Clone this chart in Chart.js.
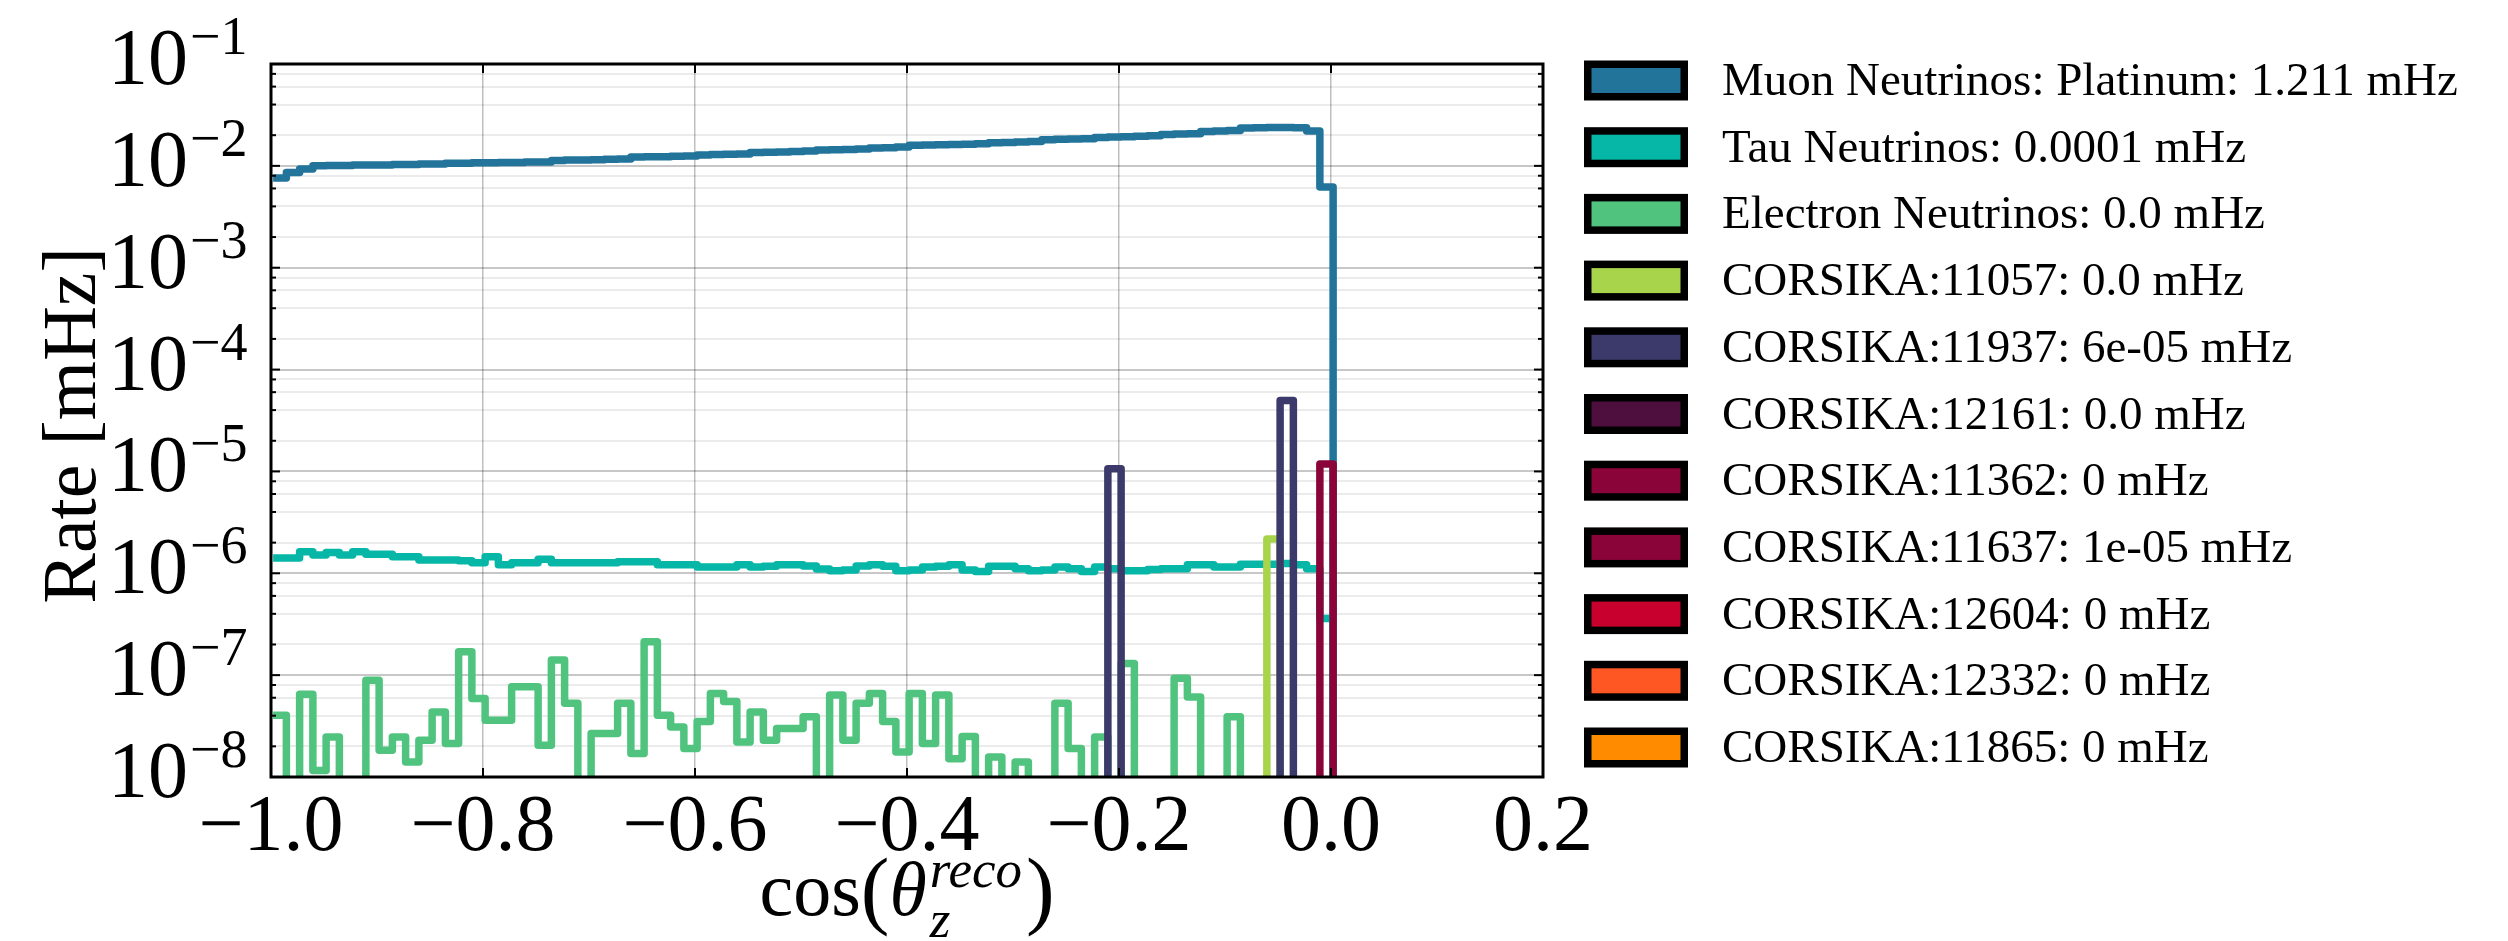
<!DOCTYPE html>
<html>
<head>
<meta charset="utf-8">
<title>Rate vs cos(theta_z reco)</title>
<script src="https://cdn.jsdelivr.net/npm/chart.js@4.4.1/dist/chart.umd.min.js"></script>
<style>
  html, body { margin: 0; padding: 0; background: #fff; }
  canvas { display: block; }
</style>
</head>
<body>
<canvas id="rateChart" width="2508" height="941"></canvas>
<script>
// binning of the histograms in cos(zenith)
const BIN_START = -0.998;
const BIN_WIDTH = 0.0125;
const N_BINS = 80;

const X_TICKS = [-1.0, -0.8, -0.6, -0.4, -0.2, 0.0, 0.2];
const Y_EXPONENTS = [-8, -7, -6, -5, -4, -3, -2, -1];
const Y_MINOR_SUBS = [2, 4, 6, 8];

// rates per bin [mHz]
const muonRates = [
  0.0076, 0.0086, 0.0093, 0.0100, 0.0101, 0.0101, 0.0102, 0.0102, 0.0102, 0.0103,
  0.0103, 0.0104, 0.0104, 0.0106, 0.0106, 0.0107, 0.0107, 0.0108, 0.0108, 0.0109,
  0.0109, 0.0113, 0.0114, 0.0114, 0.0115, 0.0116, 0.0117, 0.0122, 0.0123, 0.0123,
  0.0124, 0.0125, 0.0128, 0.0129, 0.0130, 0.0131, 0.0135, 0.0136, 0.0137, 0.0138,
  0.0140, 0.0143, 0.0144, 0.0145, 0.0146, 0.0150, 0.0151, 0.0153, 0.0159, 0.0160,
  0.0161, 0.0162, 0.0163, 0.0165, 0.0169, 0.0170, 0.0171, 0.0173, 0.0180, 0.0182,
  0.0183, 0.0185, 0.0190, 0.0192, 0.0193, 0.0195, 0.0197, 0.0203, 0.0205, 0.0207,
  0.0218, 0.0220, 0.0222, 0.0235, 0.0237, 0.0238, 0.0238, 0.0237, 0.0220, 0.0062
];

const tauRates = [
  1.41e-6, 1.41e-6, 1.63e-6, 1.51e-6, 1.60e-6, 1.51e-6, 1.63e-6, 1.54e-6, 1.54e-6, 1.45e-6,
  1.45e-6, 1.35e-6, 1.35e-6, 1.35e-6, 1.33e-6, 1.27e-6, 1.45e-6, 1.21e-6, 1.27e-6, 1.27e-6,
  1.37e-6, 1.27e-6, 1.27e-6, 1.27e-6, 1.27e-6, 1.27e-6, 1.30e-6, 1.30e-6, 1.30e-6, 1.21e-6,
  1.21e-6, 1.21e-6, 1.15e-6, 1.15e-6, 1.15e-6, 1.21e-6, 1.15e-6, 1.17e-6, 1.21e-6, 1.21e-6,
  1.18e-6, 1.10e-6, 1.06e-6, 1.08e-6, 1.18e-6, 1.21e-6, 1.17e-6, 1.06e-6, 1.08e-6, 1.15e-6,
  1.17e-6, 1.21e-6, 1.08e-6, 1.04e-6, 1.17e-6, 1.17e-6, 1.11e-6, 1.06e-6, 1.08e-6, 1.15e-6,
  1.11e-6, 1.04e-6, 1.15e-6, 1.11e-6, 1.06e-6, 1.06e-6, 1.09e-6, 1.11e-6, 1.11e-6, 1.21e-6,
  1.21e-6, 1.15e-6, 1.15e-6, 1.23e-6, 1.23e-6, 1.23e-6, 1.25e-6, 1.21e-6, 1.11e-6, 3.6e-7
];

const electronRates = [
  4.05e-8, 0, 6.5e-8, 1.16e-8, 2.47e-8, 0, 0, 8.9e-8, 1.83e-8, 2.47e-8,
  1.40e-8, 2.3e-8, 4.35e-8, 2.13e-8, 1.70e-7, 5.9e-8, 3.6e-8, 3.6e-8, 7.7e-8, 7.7e-8,
  2.05e-8, 1.41e-7, 5.3e-8, 0, 2.67e-8, 2.67e-8, 5.3e-8, 1.70e-8, 2.13e-7, 4.05e-8,
  3.1e-8, 1.9e-8, 3.5e-8, 6.6e-8, 5.5e-8, 2.2e-8, 4.35e-8, 2.3e-8, 3.0e-8, 3.0e-8,
  3.9e-8, 0, 6.4e-8, 2.3e-8, 5.3e-8, 6.6e-8, 3.5e-8, 1.76e-8, 6.6e-8, 2.13e-8,
  6.4e-8, 1.51e-8, 2.5e-8, 0, 1.57e-8, 0, 1.4e-8, 0, 0, 5.3e-8,
  1.9e-8, 0, 2.47e-8, 0, 1.30e-7, 0, 0, 0, 9.3e-8, 6.1e-8,
  0, 0, 3.9e-8, 0, 0, 0, 0, 0, 0, 0
];

// CORSIKA sets only fill a few bins: [bin index, rate]
const corsika11057 = [[75, 2.17e-6]];
const corsika11937 = [[63, 1.06e-5], [76, 4.97e-5]];
const corsika12161 = [];
const corsika11362 = [];
const corsika11637 = [[79, 1.18e-5]];
const corsika12604 = [];
const corsika12332 = [];
const corsika11865 = [];

const seriesLabels = [
  'Muon Neutrinos: Platinum: 1.211 mHz',
  'Tau Neutrinos: 0.0001 mHz',
  'Electron Neutrinos: 0.0 mHz',
  'CORSIKA:11057: 0.0 mHz',
  'CORSIKA:11937: 6e-05 mHz',
  'CORSIKA:12161: 0.0 mHz',
  'CORSIKA:11362: 0 mHz',
  'CORSIKA:11637: 1e-05 mHz',
  'CORSIKA:12604: 0 mHz',
  'CORSIKA:12332: 0 mHz',
  'CORSIKA:11865: 0 mHz'
];
const seriesColors = [
  '#22749b', '#06b6a6', '#50c47f', '#a8d44c', '#3b3a6a', '#4e0f3e',
  '#8b0439', '#8b0439', '#c8002e', '#ff5724', '#ff8c00'
];

function binEdge(i) {
  return BIN_START + i * BIN_WIDTH;
}

function fromSparse(pairs) {
  const out = new Array(N_BINS).fill(0);
  pairs.forEach(p => { out[p[0]] = p[1]; });
  return out;
}

// outline of a step histogram, empty bins go below the axis and get clipped
function stepPoints(rates) {
  const floor = 1e-12;
  const pts = rates.map((v, i) => ({x: binEdge(i), y: v > 0 ? v : floor}));
  pts.push({x: binEdge(N_BINS), y: floor});
  return pts;
}

const allRates = [
  muonRates, tauRates, electronRates,
  fromSparse(corsika11057), fromSparse(corsika11937), fromSparse(corsika12161),
  fromSparse(corsika11362), fromSparse(corsika11637), fromSparse(corsika12604),
  fromSparse(corsika12332), fromSparse(corsika11865)
];

const datasets = allRates.map((rates, i) => ({
  label: seriesLabels[i],
  data: stepPoints(rates),
  borderColor: seriesColors[i],
  backgroundColor: seriesColors[i],
  borderWidth: 7.5,
  borderJoinStyle: 'round',
  stepped: true,
  pointRadius: 0,
  fill: false,
  clip: 0,
  order: allRates.length - i
}));

const FONT = '"Liberation Serif", "Times New Roman", serif';

const decorations = {
  id: 'decorations',
  beforeDraw(chart) {
    const ctx = chart.ctx;
    ctx.save();
    ctx.fillStyle = '#fff';
    ctx.fillRect(0, 0, chart.width, chart.height);
    ctx.restore();
  },
  afterDraw(chart) {
    const ctx = chart.ctx;
    const a = chart.chartArea;
    const xs = chart.scales.x;
    const ys = chart.scales.y;
    const line = (x1, y1, x2, y2) => {
      ctx.beginPath(); ctx.moveTo(x1, y1); ctx.lineTo(x2, y2); ctx.stroke();
    };
    ctx.save();
    ctx.strokeStyle = '#000';
    ctx.fillStyle = '#000';

    // ticks pointing inwards on all four sides
    ctx.lineWidth = 2;
    X_TICKS.forEach(v => {
      const px = xs.getPixelForValue(v);
      line(px, a.bottom, px, a.bottom - 9);
      line(px, a.top, px, a.top + 9);
    });
    Y_EXPONENTS.forEach(e => {
      const py = ys.getPixelForValue(Math.pow(10, e));
      line(a.left, py, a.left + 9, py);
      line(a.right, py, a.right - 9, py);
      Y_MINOR_SUBS.forEach(s => {
        const v = s * Math.pow(10, e);
        if (v > 0.1) return;
        const pm = ys.getPixelForValue(v);
        line(a.left, pm, a.left + 5, pm);
        line(a.right, pm, a.right - 5, pm);
      });
    });

    // frame
    ctx.lineWidth = 3;
    ctx.strokeRect(a.left, a.top, a.right - a.left, a.bottom - a.top);

    // y tick labels 10^e
    ctx.textBaseline = 'alphabetic';
    Y_EXPONENTS.forEach(e => {
      const py = ys.getPixelForValue(Math.pow(10, e));
      ctx.font = '80px ' + FONT;
      ctx.textAlign = 'right';
      ctx.fillText('10', a.left - 83, py + 20);
      ctx.font = '54px ' + FONT;
      ctx.textAlign = 'left';
      ctx.fillText('\u2212' + Math.abs(e), a.left - 81, py - 10);
    });

    // x tick labels
    ctx.font = '80px ' + FONT;
    ctx.textAlign = 'center';
    X_TICKS.forEach(v => {
      const txt = (v < 0 ? '\u2212' : '') + Math.abs(v).toFixed(1);
      ctx.fillText(txt, xs.getPixelForValue(v), a.bottom + 73);
    });

    // x title: cos(theta_z^reco) with tall brackets
    const base = '76px ' + FONT;
    const paren = '86px ' + FONT;
    const ital = 'italic 76px ' + FONT;
    const small = 'italic 53px ' + FONT;
    const w = (t, f) => { ctx.font = f; return ctx.measureText(t).width; };
    const wCos = w('cos', base), wOpen = w('(', paren), wTh = w('\u03b8', ital);
    const wSup = w('reco', small), wSub = w('z', small), wEnd = w(')', paren);
    const total = wCos + wOpen + wTh + 3 + Math.max(wSup, wSub) + 4 + wEnd;
    let x = (a.left + a.right) / 2 - total / 2;
    const by = a.bottom + 138;
    ctx.textAlign = 'left';
    ctx.font = base; ctx.fillText('cos', x, by); x += wCos;
    ctx.font = paren; ctx.fillText('(', x, by + 3); x += wOpen;
    ctx.font = ital; ctx.fillText('\u03b8', x, by); x += wTh + 3;
    ctx.font = small;
    ctx.fillText('reco', x, by - 28);
    ctx.fillText('z', x, by + 22);
    x += Math.max(wSup, wSub) + 4;
    ctx.font = paren; ctx.fillText(')', x, by + 3);

    // y title
    ctx.save();
    ctx.translate(95, (a.top + a.bottom) / 2 + 5);
    ctx.rotate(-Math.PI / 2);
    ctx.textAlign = 'center';
    ctx.font = '76px ' + FONT;
    ctx.fillText('Rate [mHz]', 0, 0);
    ctx.restore();

    // legend
    ctx.font = '47px ' + FONT;
    ctx.textAlign = 'left';
    chart.data.datasets.forEach((ds, i) => {
      const yc = 80.5 + 66.7 * i;
      ctx.fillStyle = ds.backgroundColor;
      ctx.fillRect(1588, yc - 16, 96, 32);
      ctx.lineWidth = 7.5;
      ctx.strokeStyle = '#000';
      ctx.strokeRect(1587.75, yc - 16.25, 96.5, 32.5);
      ctx.fillStyle = '#000';
      ctx.fillText(ds.label, 1722, yc + 14.5);
    });
    ctx.restore();
  }
};

const config = {
  type: 'line',
  data: { datasets },
  options: {
    responsive: false,
    devicePixelRatio: 1,
    animation: false,
    events: [],
    layout: { padding: { top: 64, right: 965, bottom: 0, left: 0 } },
    plugins: {
      legend: { display: false },
      tooltip: { enabled: false }
    },
    scales: {
      x: {
        type: 'linear',
        min: -1.0,
        max: 0.2,
        afterBuildTicks: s => { s.ticks = X_TICKS.map(v => ({value: v})); },
        afterFit: s => { s.height = 164; },
        ticks: { display: false },
        border: { display: false },
        grid: { color: 'rgba(0,0,0,0.25)', lineWidth: 1.5, drawTicks: false }
      },
      y: {
        type: 'logarithmic',
        min: 1e-8,
        max: 1e-1,
        afterBuildTicks: s => {
          const ticks = [];
          Y_EXPONENTS.forEach(e => {
            ticks.push({value: Math.pow(10, e), major: true});
            Y_MINOR_SUBS.forEach(m => {
              const v = m * Math.pow(10, e);
              if (v < 0.1) ticks.push({value: v, major: false});
            });
          });
          s.ticks = ticks;
        },
        afterFit: s => { s.width = 271; },
        ticks: { display: false },
        border: { display: false },
        grid: {
          color: c => (c.tick && c.tick.major) ? 'rgba(0,0,0,0.22)' : 'rgba(0,0,0,0.08)',
          lineWidth: 2,
          drawTicks: false
        }
      }
    }
  },
  plugins: [decorations]
};

const rateChart = new Chart(document.getElementById('rateChart').getContext('2d'), config);
</script>
</body>
</html>
